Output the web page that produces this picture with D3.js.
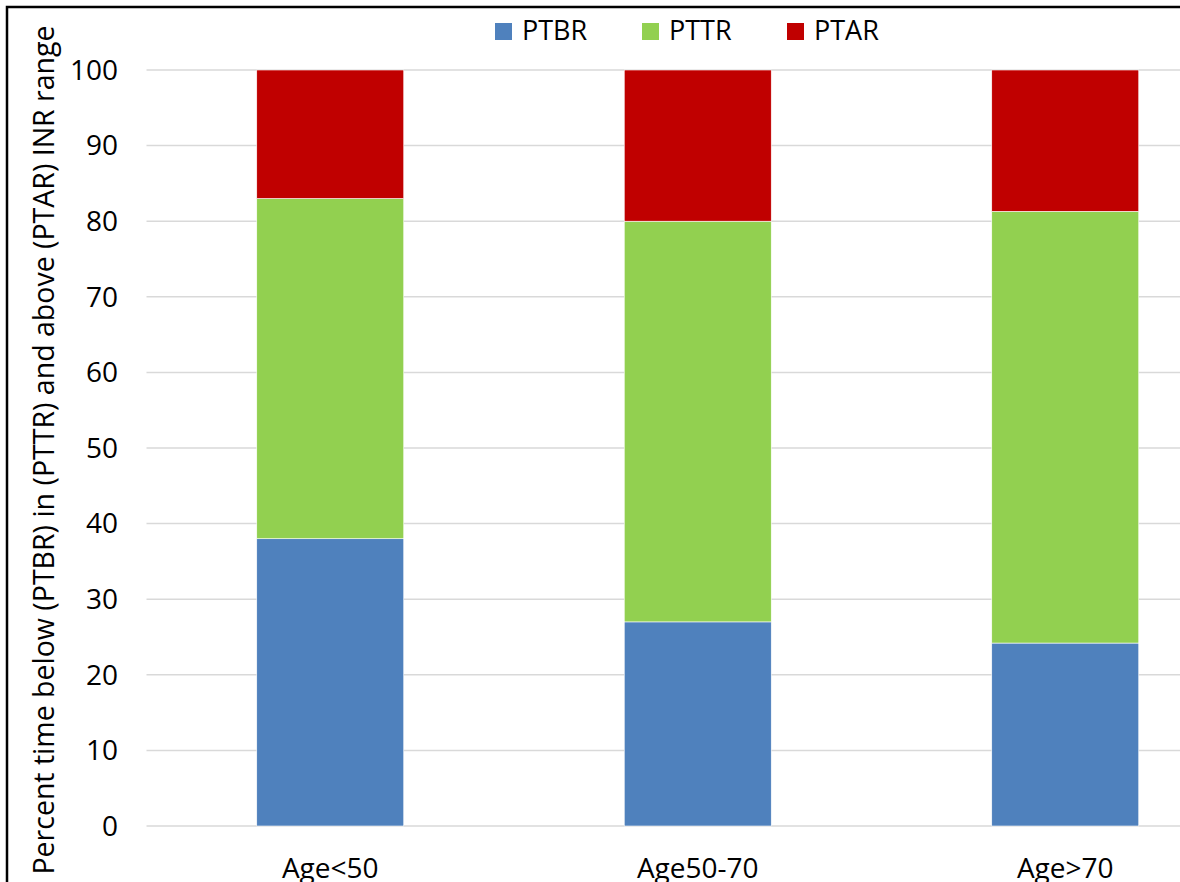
<!DOCTYPE html>
<html>
<head>
    <script src="https://cdn.jsdelivr.net/npm/d3@7"></script>
    <style>
        body { margin: 0; background: #fff; }
        #my-svg { width: 1180px; height: 882px; display: block; }
        text { font-family: "Open Sans", sans-serif; fill: #000; }
    </style>
</head>
<body>

<svg id="my-svg"></svg>

<script>
    // data
    const categories = ["Age<50", "Age50-70", "Age>70"];
    const seriesNames = ["PTBR", "PTTR", "PTAR"];
    const ptbr = [38, 27, 24.2];
    const pttr = [45, 53, 57.1];
    const ptar = [17, 20, 18.7];
    const yTicks = [0, 10, 20, 30, 40, 50, 60, 70, 80, 90, 100];
    const colors = ["#4f81bd", "#92d050", "#c00000"];

    const svg = d3.select("#my-svg");

    // outer frame (cropped at right and bottom)
    svg.append("rect")
        .attr("x", 7).attr("y", 7)
        .attr("width", 1300).attr("height", 1000)
        .attr("fill", "none").attr("stroke", "#000").attr("stroke-width", 2.5);

    const plotLeft = 146.5, plotRight = 1249, plotTop = 70, plotBottom = 826;

    const x = d3.scaleBand().domain(categories).range([plotLeft, plotRight]).paddingInner(0.6).paddingOuter(0.3);
    const y = d3.scaleLinear().domain([0, 100]).range([plotBottom, plotTop]);

    // gridlines
    svg.append("g").selectAll("line")
        .data(yTicks)
        .join("line")
        .attr("x1", plotLeft).attr("x2", plotRight)
        .attr("y1", d => y(d)).attr("y2", d => y(d))
        .attr("stroke", "#d9d9d9").attr("stroke-width", 1.5);

    // stacked bars
    const rows = categories.map((c, i) => ({ cat: c, PTBR: ptbr[i], PTTR: pttr[i], PTAR: ptar[i] }));
    const stacked = d3.stack().keys(seriesNames)(rows);

    svg.append("g").selectAll("g")
        .data(stacked)
        .join("g")
        .attr("fill", (d, i) => colors[i])
        .selectAll("rect")
        .data(d => d)
        .join("rect")
        .attr("x", d => x(d.data.cat))
        .attr("width", x.bandwidth())
        .attr("y", d => y(d[1]))
        .attr("height", d => y(d[0]) - y(d[1]))
        .attr("stroke", "#fff").attr("stroke-width", 0.6);

    // y axis tick labels
    svg.append("g").selectAll("text")
        .data(yTicks)
        .join("text")
        .attr("x", 118)
        .attr("y", d => y(d))
        .attr("dy", "0.35em")
        .attr("text-anchor", "end")
        .style("font-size", "28px")
        .text(d => d);

    // x axis labels (cut by the bottom edge, as in the source)
    svg.append("g").selectAll("text")
        .data(categories)
        .join("text")
        .attr("x", d => x(d) + x.bandwidth() / 2)
        .attr("y", 878)
        .attr("text-anchor", "middle")
        .style("font-size", "28px")
        .text(d => d);

    // y axis title
    svg.append("text")
        .attr("transform", "translate(54,450) rotate(-90)")
        .attr("text-anchor", "middle")
        .style("font-size", "28.5px")
        .text("Percent time below (PTBR) in (PTTR) and above (PTAR) INR range");

    // legend
    const legendX = [495, 642, 787];
    const lg = svg.append("g").selectAll("g")
        .data(seriesNames)
        .join("g")
        .attr("transform", (d, i) => "translate(" + legendX[i] + ",23)");
    lg.append("rect")
        .attr("width", 17).attr("height", 17)
        .attr("fill", (d, i) => colors[i]);
    lg.append("text")
        .attr("x", 27).attr("y", 17)
        .style("font-size", "27px")
        .text(d => d);
</script>
</body>
</html>
